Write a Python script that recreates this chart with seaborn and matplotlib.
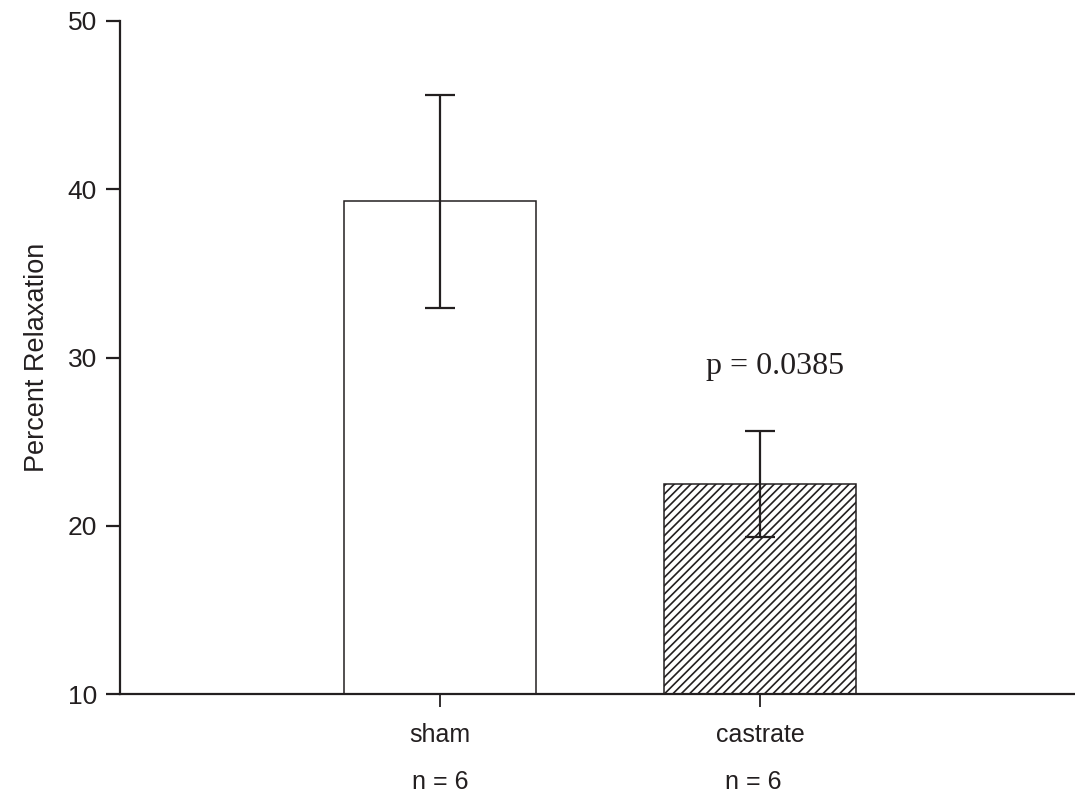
import matplotlib
matplotlib.use("Agg")
import matplotlib.pyplot as plt
import seaborn as sns
import pandas as pd

# Group means and standard errors
groups = ["sham", "castrate"]
means = [39.3, 22.5]
errors = [6.33, 3.14]
n_labels = ["n = 6", "n = 6"]
hatches = ["", "////"]
p_text = "p = 0.0385"

INK = "#231f20"

sns.set_theme(style="ticks")
plt.rcParams["font.family"] = ["Liberation Sans", "DejaVu Sans"]
plt.rcParams["hatch.linewidth"] = 1.2
plt.rcParams["hatch.color"] = INK

W, H = 1075, 796
fig = plt.figure(figsize=(W / 100, H / 100), dpi=100)
ax = fig.add_axes([120 / W, (H - 694) / H, (1075 - 120) / W, (694 - 21) / H])

df = pd.DataFrame({"group": groups, "mean": means})
sns.barplot(data=df, x="group", y="mean", order=groups, width=0.6,
            color="white", edgecolor=INK, linewidth=1.1, errorbar=None, ax=ax)

for patch, h in zip(ax.patches, hatches):
    patch.set_facecolor("white")
    patch.set_hatch(h)
    patch.set_edgecolor(INK)

ax.errorbar(range(len(groups)), means, yerr=errors, fmt="none",
            ecolor=INK, elinewidth=1.6, capsize=10.5, capthick=1.6, zorder=5)

ax.set_xlim(-1.0, 1.0 + (1075 - 760) / 320)
ax.set_ylim(10, 50)
ax.set_yticks([10, 20, 30, 40, 50])

ax.set_xlabel("")
ax.set_ylabel("Percent Relaxation", fontsize=19.5, color=INK, labelpad=13)

for side in ("top", "right"):
    ax.spines[side].set_visible(False)
for side in ("left", "bottom"):
    ax.spines[side].set_color(INK)
    ax.spines[side].set_linewidth(1.6)

ax.tick_params(axis="y", direction="out", length=10, width=1.6, color=INK,
               labelsize=19, labelcolor=INK, pad=6.5)
ax.tick_params(axis="x", direction="out", length=9, width=1.3, color=INK,
               labelsize=18, labelcolor=INK, pad=12)

# sample sizes under each category
for i, lab in enumerate(n_labels):
    ax.text(i - 0.02 * i, -0.131, lab, transform=ax.get_xaxis_transform(),
            ha="center", va="center", fontsize=18, color=INK)

ax.text(1.047, 29.0, p_text, ha="center", va="baseline",
        fontsize=23, color=INK, family=["Liberation Serif", "DejaVu Serif"])

fig.savefig("out.png", dpi=100, facecolor="white")
